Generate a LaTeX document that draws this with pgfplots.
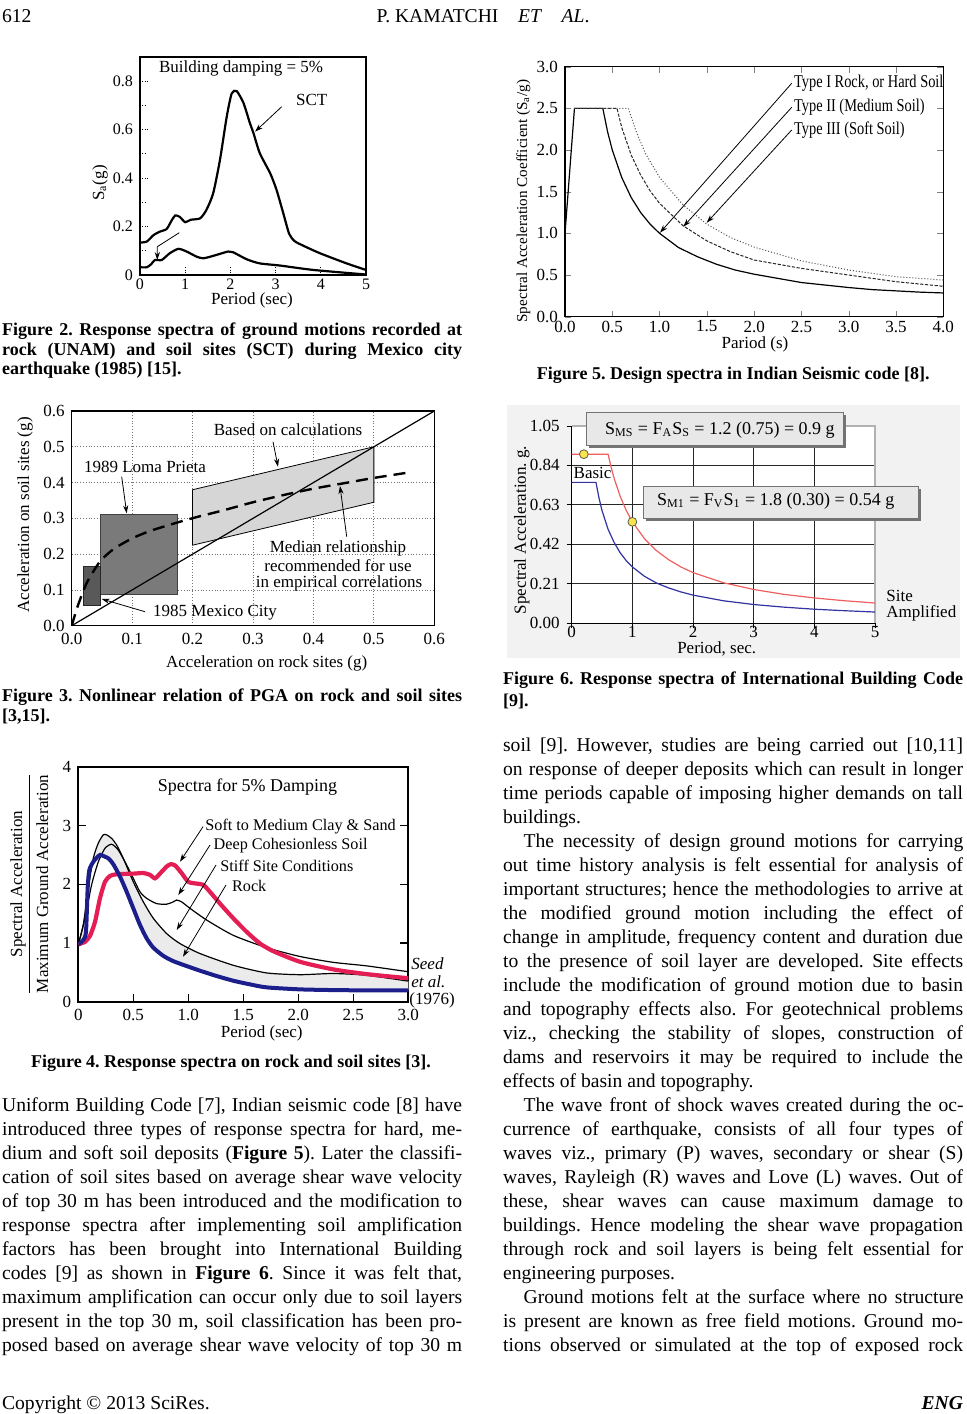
\documentclass[border=0pt]{standalone}
\usepackage{fontspec}
\setmainfont{Liberation Serif}
\usepackage{graphicx}
\usepackage{pgfplots}
\usepackage{pgfplotstable}
\pgfplotsset{compat=1.18}
\usepgfplotslibrary{fillbetween}
\usetikzlibrary{arrows.meta}
\definecolor{rockblue}{RGB}{28,30,140}
\definecolor{clayred}{RGB}{228,30,85}
\definecolor{ibcred}{RGB}{240,95,95}
\definecolor{ibcblue}{RGB}{50,50,160}
\definecolor{ptyellow}{RGB}{248,228,80}
\newcommand{\fs}[1]{\fontsize{#1}{#1}\selectfont}
% body text lines (justified / last line)
\newcommand{\BJ}[3]{\node[anchor=base west,inner sep=0pt,font=\fs{9.8}] at (#1,#2) {\makebox[230pt][s]{#3}};}
\newcommand{\BI}[3]{\node[anchor=base west,inner sep=0pt,font=\fs{9.8}] at (#1,#2) {\makebox[219.9pt][s]{#3}};}
\newcommand{\BL}[3]{\node[anchor=base west,inner sep=0pt,font=\fs{9.8}] at (#1,#2) {#3};}
% caption lines
\newcommand{\CJ}[3]{\node[anchor=base west,inner sep=0pt,font=\fs{9}\bfseries] at (#1,#2) {\makebox[230pt][s]{#3}};}
\newcommand{\CL}[3]{\node[anchor=base west,inner sep=0pt,font=\fs{9}\bfseries] at (#1,#2) {#3};}

\pgfplotstableread{
x y
0 0.976
0.045 1.31
0.091 1.93
0.136 2.44
0.182 2.70
0.227 2.84
0.258 2.84
0.303 2.78
0.348 2.67
0.409 2.44
0.5 2.04
0.591 1.70
0.682 1.42
0.803 1.16
0.924 0.99
1.106 0.82
1.409 0.62
1.712 0.49
2.015 0.46
2.318 0.48
2.621 0.45
3.0 0.35
}\stiffdata
\pgfplotstableread{
x y
0 0.976
0.045 1.05
0.07 1.19
0.085 1.93
0.1 2.24
0.136 2.38
0.182 2.48
0.2 2.50
0.273 2.44
0.318 2.34
0.379 2.13
0.44 1.87
0.5 1.59
0.56 1.31
0.621 1.08
0.682 0.92
0.773 0.78
0.864 0.69
0.985 0.607
1.106 0.528
1.258 0.437
1.409 0.357
1.561 0.295
1.712 0.244
2.015 0.21
2.318 0.198
2.621 0.193
3.0 0.193
}\rockdata

\begin{document}
\frenchspacing
\begin{tikzpicture}
\begin{scope}[x=0.5pt,y=-0.5pt]
\path[use as bounding box] (0,0) rectangle (967,1414);
\fill[black!5] (506.7,405) rectangle (960,658);
\end{scope}

% ---------------- Figure 2 ----------------
\begin{axis}[scale only axis, anchor=south west, at={(70pt,-137.5pt)},
  width=113pt, height=109pt,
  xmin=0, xmax=5, ymin=0, ymax=0.9,
  xtick={0,1,2,3,4,5}, xticklabels={0,1,2,3,4,5},
  ytick={0,0.2,0.4,0.6,0.8}, yticklabels={0,0.2,0.4,0.6,0.8},
  minor ytick={0.1,0.3,0.5,0.7},
  tick pos=left, tick align=inside, major tick length=4pt, minor tick length=3pt,
  tick style={densely dotted, black, thin},
  axis line style={line width=0.6pt},
  tick label style={font=\fs{8}},
  xticklabel style={yshift=1.5pt},
  /pgf/number format/assume math mode=true]
\addplot[black, line width=1.1pt, smooth, tension=0.4] coordinates {
(0,0.134)(0.15,0.138)(0.3,0.165)(0.44,0.179)(0.59,0.19)(0.7,0.225)(0.78,0.246)
(0.88,0.24)(1.0,0.218)(1.12,0.228)(1.33,0.234)(1.47,0.269)(1.62,0.338)(1.77,0.476)
(1.92,0.655)(2.03,0.75)(2.14,0.759)(2.29,0.71)(2.43,0.628)(2.51,0.586)(2.65,0.503)
(2.88,0.42)(3.02,0.352)(3.17,0.255)(3.3,0.17)(3.42,0.14)(3.6,0.122)(3.98,0.09)
(4.57,0.048)(5,0.021)};
\addplot[black, line width=1.1pt, smooth, tension=0.4] coordinates {
(0,0.032)(0.15,0.032)(0.25,0.045)(0.33,0.062)(0.48,0.062)(0.66,0.09)(0.85,0.108)
(1.03,0.097)(1.25,0.076)(1.4,0.069)(1.62,0.079)(1.95,0.097)(2.06,0.094)(2.36,0.065)
(2.65,0.048)(3.1,0.039)(3.83,0.021)(5,0.002)};
\end{axis}

% ---------------- Figure 3 ----------------
\begin{axis}[scale only axis, anchor=south west, at={(35.85pt,-312.85pt)},
  width=181.3pt, height=107.35pt,
  xmin=0, xmax=0.6, ymin=0, ymax=0.6,
  xtick={0,0.1,0.2,0.3,0.4,0.5,0.6}, xticklabels={0.0,0.1,0.2,0.3,0.4,0.5,0.6},
  ytick={0,0.1,0.2,0.3,0.4,0.5,0.6}, yticklabels={0.0,0.1,0.2,0.3,0.4,0.5,0.6},
  grid=major, grid style={densely dotted, black!55},
  major tick length=0pt,
  axis line style={line width=0.6pt},
  tick label style={font=\fs{8.5}},
  /pgf/number format/assume math mode=true]
\addplot[fill=black!16, draw=black, line width=0.4pt] coordinates {(0.2,0.38)(0.5,0.5)(0.5,0.345)(0.2,0.225)} -- cycle;
\addplot[fill=black!52, draw=black!75, line width=0.4pt] coordinates {(0.047,0.0885)(0.175,0.0885)(0.175,0.312)(0.047,0.312)} -- cycle;
\addplot[fill=black!65, draw=black!85, line width=0.4pt] coordinates {(0.02,0.058)(0.047,0.058)(0.047,0.165)(0.02,0.165)} -- cycle;
\addplot[black, line width=0.6pt] coordinates {(0,0)(0.6,0.6)};
\addplot[black, line width=1.2pt, dash pattern=on 6pt off 3.5pt, smooth, tension=0.4] coordinates {
(0,0)(0.01,0.055)(0.025,0.12)(0.047,0.18)(0.07,0.215)(0.1,0.244)(0.13,0.265)(0.174,0.288)
(0.21,0.305)(0.25,0.322)(0.3,0.345)(0.35,0.365)(0.4,0.383)(0.45,0.398)(0.5,0.413)(0.557,0.428)};
\end{axis}

% ---------------- Figure 4 ----------------
\begin{axis}[scale only axis, anchor=south west, at={(39.15pt,-500.85pt)},
  width=165pt, height=117.5pt,
  xmin=0, xmax=3, ymin=0, ymax=4,
  xtick={0,0.5,1,1.5,2,2.5,3}, xticklabels={0,0.5,1.0,1.5,2.0,2.5,3.0},
  ytick={0,1,2,3,4}, yticklabels={0,1,2,3,4},
  xtick pos=left, ytick pos=both, tick align=inside, major tick length=4pt,
  tick style={black, line width=0.6pt},
  axis line style={line width=0.9pt},
  tick label style={font=\fs{8.5}},
  /pgf/number format/assume math mode=true]
\addplot[name path=stiffp, draw=none, smooth, tension=0.4] table {\stiffdata};
\addplot[name path=rockp, draw=none, smooth, tension=0.4] table {\rockdata};
\addplot[black!8] fill between[of=stiffp and rockp];
\addplot[black, line width=0.6pt, smooth, tension=0.4] table {\stiffdata};
\addplot[black, line width=0.6pt, smooth, tension=0.4] coordinates {
(0,0.976)(0.061,1.42)(0.121,1.99)(0.182,2.38)(0.242,2.61)(0.303,2.68)(0.364,2.58)(0.439,2.33)
(0.5,2.1)(0.561,1.87)(0.621,1.76)(0.712,1.67)(0.803,1.66)(0.864,1.70)(0.894,1.73)(0.939,1.70)
(1.015,1.59)(1.167,1.39)(1.409,1.13)(1.712,0.92)(2.015,0.77)(2.318,0.67)(2.621,0.61)(3.0,0.51)};
\addplot[clayred, line width=2.1pt, smooth, tension=0.4] coordinates {
(0,0.976)(0.061,1.02)(0.106,1.12)(0.152,1.36)(0.197,1.76)(0.242,2.04)(0.288,2.14)(0.348,2.17)
(0.5,2.18)(0.591,2.19)(0.652,2.16)(0.697,2.1)(0.742,2.18)(0.803,2.30)(0.839,2.34)(0.879,2.32)
(0.939,2.19)(1.0,2.04)(1.076,2.01)(1.136,1.99)(1.197,1.87)(1.288,1.67)(1.409,1.42)(1.53,1.19)
(1.652,0.99)(1.773,0.86)(2.015,0.68)(2.318,0.55)(2.621,0.47)(3.0,0.40)};
\addplot[rockblue, line width=2.0pt, smooth, tension=0.4] table {\rockdata};
\end{axis}

% ---------------- Figure 5 ----------------
\begin{axis}[scale only axis, anchor=south west, at={(282.5pt,-158.35pt)},
  width=189.15pt, height=125pt,
  xmin=0, xmax=4, ymin=0, ymax=3,
  xtick={0,0.5,1,1.5,2,2.5,3,3.5,4}, xticklabels={0.0,0.5,1.0,1.5,2.0,2.5,3.0,3.5,4.0},
  ytick={0,0.5,1,1.5,2,2.5,3}, yticklabels={0.0,0.5,1.0,1.5,2.0,2.5,3.0},
  tick pos=both, tick align=inside, major tick length=3pt,
  axis line style={line width=0.6pt},
  tick label style={font=\fs{8.5}},
  xticklabel style={yshift=1.5pt},
  /pgf/number format/assume math mode=true]
\addplot[black, line width=0.6pt] coordinates {
(0,1.0)(0.1,2.5)(0.4,2.5)(0.45,2.22)(0.5,2.0)(0.6,1.67)(0.7,1.43)(0.8,1.25)(0.9,1.11)(1.0,1.0)
(1.2,0.83)(1.4,0.72)(1.6,0.63)(1.8,0.56)(2.0,0.51)(2.25,0.46)(2.5,0.41)(2.75,0.38)(3.0,0.35)
(3.25,0.325)(3.5,0.31)(3.75,0.295)(4.0,0.285)};
\addplot[black!85, line width=0.5pt, dash pattern=on 1.6pt off 0.8pt] coordinates {
(0.1,2.5)(0.55,2.5)(0.6,2.27)(0.7,1.94)(0.8,1.7)(0.9,1.51)(1.0,1.36)(1.25,1.09)(1.5,0.91)
(1.75,0.78)(2.0,0.68)(2.5,0.58)(3.0,0.5)(3.5,0.42)(4.0,0.365)};
\addplot[black!70, line width=0.5pt, densely dotted] coordinates {
(0.1,2.5)(0.67,2.5)(0.75,2.23)(0.85,1.96)(1.0,1.67)(1.25,1.34)(1.5,1.11)(1.75,0.95)(2.0,0.835)
(2.5,0.67)(3.0,0.56)(3.5,0.48)(4.0,0.44)};
\end{axis}

% ---------------- Figure 6 ----------------
\begin{axis}[scale only axis, anchor=south west, at={(285.85pt,-311.65pt)},
  width=151.65pt, height=98.65pt,
  xmin=0, xmax=5, ymin=0, ymax=1.05,
  xtick={0,1,2,3,4,5}, xticklabels={0,1,2,3,4,5},
  ytick={0,0.21,0.42,0.63,0.84,1.05}, yticklabels={0.00,0.21,0.42,0.63,0.84,1.05},
  grid=major, grid style={black!85, line width=0.5pt},
  axis line style={draw=none},
  axis background/.style={fill=white},
  tick pos=left, tick align=outside, major tick length=2.5pt,
  tick style={black, line width=0.5pt},
  tick label style={font=\fs{8.5}},
  xticklabel style={yshift=4.5pt},
  clip=false,
  /pgf/number format/assume math mode=true]
\draw[black!30, line width=0.6pt] (axis cs:0,1.05) -- (axis cs:5,1.05) -- (axis cs:5,0);
\draw[black, line width=0.6pt] (axis cs:0,1.05) -- (axis cs:0,0) -- (axis cs:5,0);
\addplot[ibcblue, line width=0.6pt] coordinates {
(0,0.75)(0.4,0.75)(0.45,0.667)(0.5,0.6)(0.6,0.5)(0.7,0.43)(0.8,0.375)(0.9,0.333)(1.0,0.3)
(1.2,0.25)(1.4,0.214)(1.6,0.188)(1.8,0.167)(2.0,0.15)(2.5,0.12)(3.0,0.1)(3.5,0.086)(4.0,0.075)
(4.5,0.067)(5.0,0.06)};
\addplot[ibcred, line width=0.6pt] coordinates {
(0,0.9)(0.6,0.9)(0.65,0.83)(0.7,0.771)(0.8,0.675)(0.9,0.6)(1.0,0.54)(1.2,0.45)(1.4,0.386)
(1.6,0.338)(1.8,0.3)(2.0,0.27)(2.5,0.216)(3.0,0.18)(3.5,0.154)(4.0,0.135)(4.5,0.12)(5.0,0.108)};
\addplot[only marks, mark=*, mark size=2.2pt, mark options={fill=ptyellow, draw=black!60!yellow!70!black, line width=0.4pt}] coordinates {(0.2,0.9)(1.0,0.54)};
\end{axis}

\begin{scope}[x=0.5pt,y=-0.5pt, arr/.style={-{Stealth[length=4pt,width=2.6pt]}, line width=0.4pt}]
% header
\node[anchor=base west,inner sep=0pt,font=\fs{9.8}] at (1.7,22) {612};
\node[anchor=base,inner sep=0pt,font=\fs{9.8}] at (483,22) {P. KAMATCHI\quad\textit{ET}\quad\textit{AL}.};

% Figure 2 annotations
\node[anchor=west,font=\fs{8.5}] at (152,68) {Building damping = 5\%};
\node[anchor=west,font=\fs{8.5}] at (289,100) {SCT};
\draw[arr] (281.7,106.7) -- (255,131.7);
\draw[arr] (179.3,232.7) -- (157.3,246.7) -- (157.3,260);
\node[rotate=90,font=\fs{8.5}] at (100,183) {S\textsubscript{a}(g)};
\node[font=\fs{8.5}] at (252,300) {Period (sec)};
\CJ{1.7}{335}{Figure 2. Response spectra of ground motions recorded at}
\CJ{1.7}{355}{rock (UNAM) and soil sites (SCT) during Mexico city}
\CL{1.7}{374}{earthquake (1985) [15].}

% Figure 3 annotations
\node[font=\fs{8.5}] at (288,430) {Based on calculations};
\draw[arr] (273,441.7) -- (278,466.7);
\node[font=\fs{8.5}] at (145,466.7) {1989 Loma Prieta};
\draw[arr] (121.7,476.7) -- (126.7,513.3);
\node[font=\fs{8.5}] at (338,548) {Median relationship};
\node[font=\fs{8.5}] at (338,565.5) {recommended for use};
\node[font=\fs{8.5}] at (339,583) {in empirical correlations};
\draw[arr] (346.7,536.7) -- (340,486);
\node[font=\fs{8.5}] at (215,613) {1985 Mexico City};
\draw[arr] (145,611.7) -- (101.7,599);
\node[rotate=90,font=\fs{8.5}] at (25,515) {Acceleration on soil sites (g)};
\node[font=\fs{8.5}] at (266.7,663.3) {Acceleration on rock sites (g)};
\CJ{1.7}{701.5}{Figure 3. Nonlinear relation of PGA on rock and soil sites}
\CL{1.7}{721}{[3,15].}

% Figure 4 annotations
\node[font=\fs{9}] at (247.5,786.7) {Spectra for 5\% Damping};
\node[anchor=west,font=\fs{8.1},inner sep=0pt] at (205,826.7) {Soft to Medium Clay \& Sand};
\draw[arr] (203,826.7) -- (180,861.7);
\node[anchor=west,font=\fs{8.1},inner sep=0pt] at (213.3,845.5) {Deep Cohesionless Soil};
\draw[arr] (210,845) -- (178.3,895);
\node[anchor=west,font=\fs{8.1},inner sep=0pt] at (220,865.5) {Stiff Site Conditions};
\draw[arr] (216,865) -- (176.7,930);
\node[anchor=west,font=\fs{8.1},inner sep=0pt] at (231.7,885.5) {Rock};
\draw[arr] (226,885) -- (183,956.7);
\node[anchor=west,font=\fs{8.5}\itshape,inner sep=0pt] at (411,963.3) {Seed};
\node[anchor=west,font=\fs{8.5}\itshape,inner sep=0pt] at (411,981.7) {et al.};
\node[anchor=west,font=\fs{8.5},inner sep=0pt] at (409,1000) {(1976)};
\node[rotate=90,font=\fs{8.5},inner sep=0pt] at (31.7,884) {\begin{tabular}{@{}c@{}}Spectral Acceleration\\[1pt]\hline\rule{0pt}{9pt}Maximum Ground Acceleration\end{tabular}};
\node[font=\fs{8.5}] at (261.7,1033) {Period (sec)};
\node[anchor=base,inner sep=0pt,font=\fs{9}\bfseries] at (231,1067.5) {Figure 4. Response spectra on rock and soil sites [3].};

% left column text
\BJ{1.7}{1111}{Uniform Building Code [7], Indian seismic code [8] have}
\BJ{1.7}{1135}{introduced three types of response spectra for hard, me-}
\BJ{1.7}{1159}{dium and soft soil deposits (\textbf{Figure 5}). Later the classifi-}
\BJ{1.7}{1183}{cation of soil sites based on average shear wave velocity}
\BJ{1.7}{1207}{of top 30 m has been introduced and the modification to}
\BJ{1.7}{1231}{response spectra after implementing soil amplification}
\BJ{1.7}{1255}{factors has been brought into International Building}
\BJ{1.7}{1279}{codes [9] as shown in \textbf{Figure 6}. Since it was felt that,}
\BJ{1.7}{1303}{maximum amplification can occur only due to soil layers}
\BJ{1.7}{1327}{present in the top 30 m, soil classification has been pro-}
\BJ{1.7}{1351}{posed based on average shear wave velocity of top 30 m}

% Figure 5 annotations
\node[anchor=west,inner sep=1pt,font=\fs{9}] at (791.7,83.3) {\scalebox{0.8}[1]{Type I Rock, or Hard Soil}};
\node[anchor=west,inner sep=1pt,font=\fs{9}] at (791.7,107.3) {\scalebox{0.8}[1]{Type II (Medium Soil)}};
\node[anchor=west,inner sep=1pt,font=\fs{9}] at (791.7,130) {\scalebox{0.8}[1]{Type III (Soft Soil)}};
\draw[arr] (791.7,83.3) -- (660,232.7);
\draw[arr] (791.7,107.3) -- (683.3,226.7);
\draw[arr] (791.7,130) -- (706.7,222.7);
\node[rotate=90,font=\fs{7.6}] at (523.3,201) {Spectral Acceleration Coefficient (S\textsubscript{a}/g)};
\node[font=\fs{8.5}] at (755,344) {Pariod (s)};
\node[anchor=base,inner sep=0pt,font=\fs{9}\bfseries] at (733.3,379) {Figure 5. Design spectra in Indian Seismic code [8].};

% Figure 6 annotations
\fill[black!55] (589.2,415.2) rectangle (845.8,447.5);
\draw[fill=black!9, draw=black!55, line width=0.5pt] (586.7,412.7) rectangle (843.3,445);
\node[anchor=west,font=\fs{9}] at (598,430) {S\textsubscript{MS} = F\textsubscript{A}S\textsubscript{S} = 1.2 (0.75) = 0.9 g};
\fill[black!55] (645.8,488.5) rectangle (920.8,520.8);
\draw[fill=black!9, draw=black!55, line width=0.5pt] (643.3,486) rectangle (918.3,518.3);
\node[anchor=west,font=\fs{9}] at (650,501) {S\textsubscript{M1} = F\textsubscript{V}S\textsubscript{1} = 1.8 (0.30) = 0.54 g};
\node[anchor=west,font=\fs{8.5},inner sep=0pt] at (573.3,473.3) {Basic};
\node[anchor=west,font=\fs{8.5},inner sep=0pt] at (886,596) {Site};
\node[anchor=west,font=\fs{8.5},inner sep=0pt] at (886,613.3) {Amplified};
\node[rotate=90,font=\fs{8.5}] at (521.7,530) {Spectral Acceleration. g.};
\node[font=\fs{8.5}] at (716.7,649) {Period, sec.};
\CJ{502.7}{684}{Figure 6. Response spectra of International Building Code}
\CL{502.7}{706.5}{[9].}

% right column text
\BJ{502.7}{751}{soil [9]. However, studies are being carried out [10,11]}
\BJ{502.7}{775}{on response of deeper deposits which can result in longer}
\BJ{502.7}{799}{time periods capable of imposing higher demands on tall}
\BL{502.7}{823}{buildings.}
\BI{523.3}{847}{The necessity of design ground motions for carrying}
\BJ{502.7}{871}{out time history analysis is felt essential for analysis of}
\BJ{502.7}{895}{important structures; hence the methodologies to arrive at}
\BJ{502.7}{919}{the modified ground motion including the effect of}
\BJ{502.7}{943}{change in amplitude, frequency content and duration due}
\BJ{502.7}{967}{to the presence of soil layer are developed. Site effects}
\BJ{502.7}{991}{include the modification of ground motion due to basin}
\BJ{502.7}{1015}{and topography effects also. For geotechnical problems}
\BJ{502.7}{1039}{viz., checking the stability of slopes, construction of}
\BJ{502.7}{1063}{dams and reservoirs it may be required to include the}
\BL{502.7}{1087}{effects of basin and topography.}
\BI{523.3}{1111}{The wave front of shock waves created during the oc-}
\BJ{502.7}{1135}{currence of earthquake, consists of all four types of}
\BJ{502.7}{1159}{waves viz., primary (P) waves, secondary or shear (S)}
\BJ{502.7}{1183}{waves, Rayleigh (R) waves and Love (L) waves. Out of}
\BJ{502.7}{1207}{these, shear waves can cause maximum damage to}
\BJ{502.7}{1231}{buildings. Hence modeling the shear wave propagation}
\BJ{502.7}{1255}{through rock and soil layers is being felt essential for}
\BL{502.7}{1279}{engineering purposes.}
\BI{523.3}{1303}{Ground motions felt at the surface where no structure}
\BJ{502.7}{1327}{is present are known as free field motions. Ground mo-}
\BJ{502.7}{1351}{tions observed or simulated at the top of exposed rock}

% footer
\node[anchor=base west,inner sep=0pt,font=\fs{9.8}] at (1.7,1409) {Copyright © 2013 SciRes.};
\node[anchor=base east,inner sep=0pt,font=\fs{9.8}\bfseries\itshape] at (963.3,1409) {ENG};
\end{scope}
\end{tikzpicture}
\end{document}
